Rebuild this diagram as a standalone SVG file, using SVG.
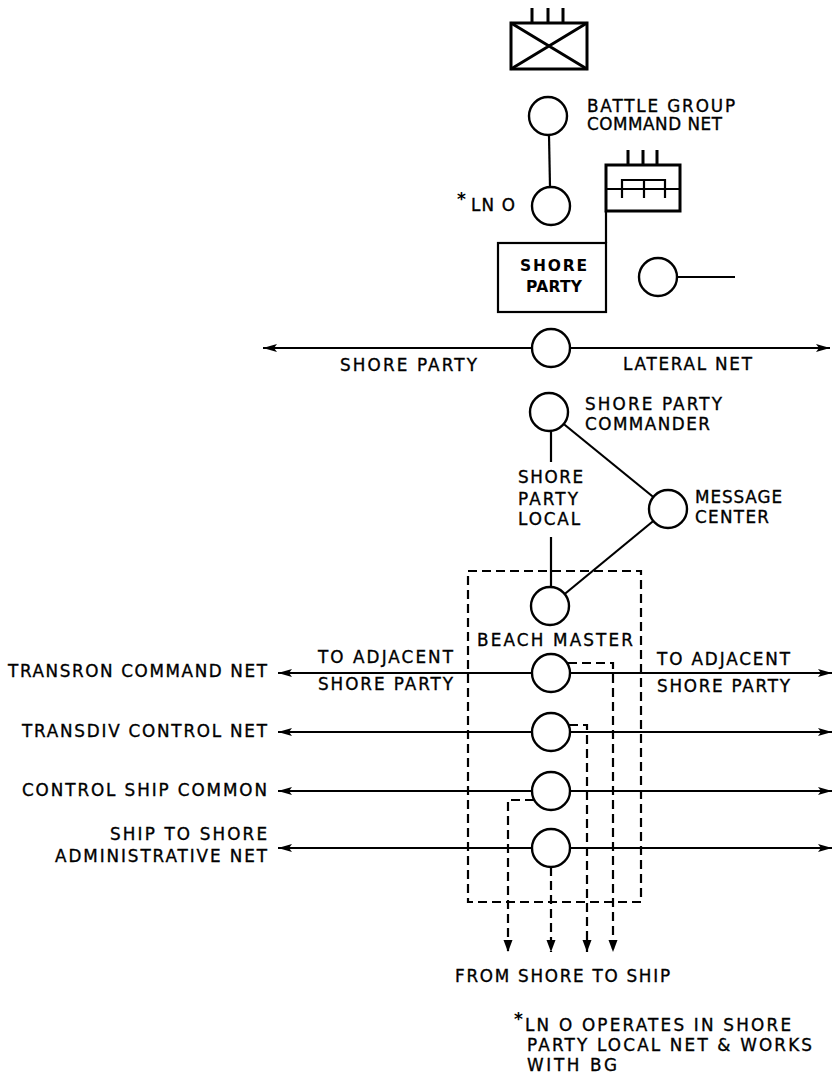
<svg xmlns="http://www.w3.org/2000/svg" width="839" height="1078" viewBox="0 0 839 1078">
<defs>
<marker id="arr" viewBox="0 0 14 10" refX="14" refY="5" markerWidth="14" markerHeight="10" markerUnits="userSpaceOnUse" orient="auto-start-reverse">
<path d="M0,1 L14,5 L0,9 L3,5 Z" fill="#000"/>
</marker>
<marker id="arrd" viewBox="0 0 12 10" refX="12" refY="5" markerWidth="12" markerHeight="10" markerUnits="userSpaceOnUse" orient="auto">
<path d="M0,0.5 L12,5 L0,9.5 Z" fill="#000"/>
</marker>
</defs>
<style>
text{font-family:"DejaVu Sans","Liberation Sans",sans-serif;font-size:16.8px;fill:#000;stroke:#000;stroke-width:0.35}
.b{font-weight:bold;font-size:15.5px;stroke-width:0}
.r{text-anchor:end}
.a{font-size:17px;font-weight:bold;stroke-width:0}
.n{fill:#fff;stroke:#000;stroke-width:2.4}
.s{fill:none;stroke:#000;stroke-width:2.2}
.t{fill:none;stroke:#000;stroke-width:3}
.d{fill:none;stroke:#000;stroke-width:2.2;stroke-dasharray:9 5}
</style>
<rect width="839" height="1078" fill="#fff"/>

<g id="connectors">
<line class="s" x1="549" y1="135" x2="550" y2="187"/>
<line class="s" x1="606" y1="211" x2="606" y2="243"/>
<line class="s" x1="677" y1="277" x2="735" y2="277"/>
<line class="s" x1="263" y1="348" x2="830" y2="348" marker-start="url(#arr)" marker-end="url(#arr)"/>
<line class="s" x1="551" y1="431" x2="551" y2="462"/>
<line class="s" x1="551" y1="537" x2="551" y2="587"/>
<line class="s" x1="563.7" y1="424" x2="653.3" y2="497"/>
<line class="s" x1="653.3" y1="521" x2="564.7" y2="594"/>
<line class="s" x1="278" y1="673" x2="832" y2="673" marker-start="url(#arr)" marker-end="url(#arr)"/>
<line class="s" x1="278" y1="732" x2="832" y2="732" marker-start="url(#arr)" marker-end="url(#arr)"/>
<line class="s" x1="278" y1="791" x2="832" y2="791" marker-start="url(#arr)" marker-end="url(#arr)"/>
<line class="s" x1="278" y1="848" x2="832" y2="848" marker-start="url(#arr)" marker-end="url(#arr)"/>
<rect class="d" x="468" y="571" width="173" height="331"/>
<path class="d" d="M568,663 H613 V952" marker-end="url(#arrd)"/>
<path class="d" d="M569,725 H587 V952" marker-end="url(#arrd)"/>
<path class="d" d="M534,800 H508 V952" marker-end="url(#arrd)"/>
<path class="d" d="M551,867 V952" marker-end="url(#arrd)"/>
</g>

<g id="battle-group-symbol">
<rect class="t" x="511" y="23" width="76" height="46"/>
<path class="t" d="M511,23 L587,69 M587,23 L511,69 M532,8 V23 M548,8 V23 M563,8 V23"/>
</g>

<g id="bg-command-net">
<circle class="n" cx="548" cy="116" r="19"/>
<text x="587" y="112" textLength="148">BATTLE GROUP</text>
<text x="587" y="130" textLength="135">COMMAND NET</text>
</g>

<g id="ln-o">
<circle class="n" cx="551" cy="206" r="19"/>
<text class="a" x="457" y="205">*</text>
<text x="471" y="211" textLength="44">LN O</text>
</g>

<g id="radio-symbol">
<rect class="t" x="606" y="165" width="74" height="46"/>
<path class="s" d="M606,189 H680 M622,198 V180 H665 V198 M644,180 V198"/>
<path class="t" d="M628,150 V165 M643,150 V165 M657,150 V165"/>
</g>

<g id="shore-party">
<rect class="s" x="498" y="243" width="108" height="69"/>
<text class="b" x="520" y="271" textLength="67">SHORE</text>
<text class="b" x="526" y="292" textLength="56">PARTY</text>
</g>

<g id="side-station">
<circle class="n" cx="658" cy="277" r="19"/>
</g>

<g id="lateral-net">
<circle class="n" cx="551" cy="348" r="19"/>
<text x="340" y="371" textLength="137">SHORE PARTY</text>
<text x="623" y="370" textLength="129">LATERAL NET</text>
</g>

<g id="shore-party-commander">
<circle class="n" cx="549" cy="412" r="19"/>
<text x="585" y="410" textLength="137">SHORE PARTY</text>
<text x="585" y="430" textLength="125">COMMANDER</text>
</g>

<g id="shore-party-local">
<text x="518" y="483" textLength="65">SHORE</text>
<text x="518" y="505" textLength="60">PARTY</text>
<text x="518" y="525" textLength="62">LOCAL</text>
</g>

<g id="message-center">
<circle class="n" cx="668" cy="509" r="19"/>
<text x="695" y="503" textLength="87">MESSAGE</text>
<text x="695" y="523" textLength="74">CENTER</text>
</g>

<g id="beach-master">
<circle class="n" cx="550" cy="606" r="19"/>
<text x="477" y="646" textLength="156">BEACH MASTER</text>
</g>

<g id="transron-command-net">
<circle class="n" cx="551" cy="673" r="19"/>
<text class="r" x="267" y="677" textLength="259">TRANSRON COMMAND NET</text>
<text x="318" y="663" textLength="135">TO ADJACENT</text>
<text x="318" y="690" textLength="135">SHORE PARTY</text>
<text x="657" y="665" textLength="133">TO ADJACENT</text>
<text x="657" y="692" textLength="133">SHORE PARTY</text>
</g>

<g id="transdiv-control-net">
<circle class="n" cx="551" cy="732" r="19"/>
<text class="r" x="267" y="737" textLength="245">TRANSDIV CONTROL NET</text>
</g>

<g id="control-ship-common">
<circle class="n" cx="551" cy="791" r="19"/>
<text class="r" x="267" y="796" textLength="245">CONTROL SHIP COMMON</text>
</g>

<g id="ship-to-shore-admin-net">
<circle class="n" cx="551" cy="848" r="19"/>
<text class="r" x="267" y="840" textLength="157">SHIP TO SHORE</text>
<text class="r" x="267" y="862" textLength="212">ADMINISTRATIVE NET</text>
</g>

<g id="from-shore-to-ship">
<text x="455" y="982" textLength="215">FROM SHORE TO SHIP</text>
</g>

<g id="footnote">
<text class="a" x="514" y="1025">*</text>
<text x="525" y="1031" textLength="266">LN O OPERATES IN SHORE</text>
<text x="527" y="1051" textLength="285">PARTY LOCAL NET &amp; WORKS</text>
<text x="527" y="1071" textLength="90">WITH BG</text>
</g>
</svg>
